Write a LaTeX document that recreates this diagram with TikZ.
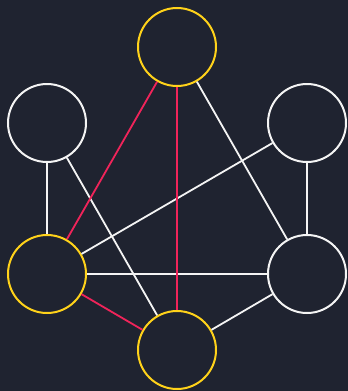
\documentclass[tikz,border=0pt]{standalone}
\definecolor{bg}{HTML}{1F2330}
\definecolor{gold}{HTML}{FFD21A}
\definecolor{hot}{HTML}{F0245A}
\definecolor{wline}{HTML}{F4F4F4}
\begin{document}
\begin{tikzpicture}[x=1pt,y=-1pt,
  vert/.style={circle,draw=wline,line width=2pt,fill=bg,minimum size=78pt,inner sep=0pt},
  hl/.style={draw=gold},
  edge/.style={draw=wline,line width=1.8pt},
  redge/.style={draw=hot,line width=1.8pt}]
\fill[bg] (0,0) rectangle (348,391);
\useasboundingbox (0,0) rectangle (348,391);
\node[vert,hl] (t) at (177,47) {};
\node[vert] (ul) at (47,123) {};
\node[vert] (ur) at (307,123) {};
\node[vert,hl] (ll) at (47,274) {};
\node[vert] (lr) at (307,274) {};
\node[vert,hl] (b) at (177,350) {};
\path[edge] (t) -- (lr);
\path[edge] (ul) -- (ll);
\path[edge] (ul) -- (b);
\path[edge] (ur) -- (ll);
\path[edge] (ur) -- (lr);
\path[edge] (ll) -- (lr);
\path[edge] (b) -- (lr);
\path[redge] (t) -- (ll);
\path[redge] (t) -- (b);
\path[redge] (ll) -- (b);
\end{tikzpicture}
\end{document}
